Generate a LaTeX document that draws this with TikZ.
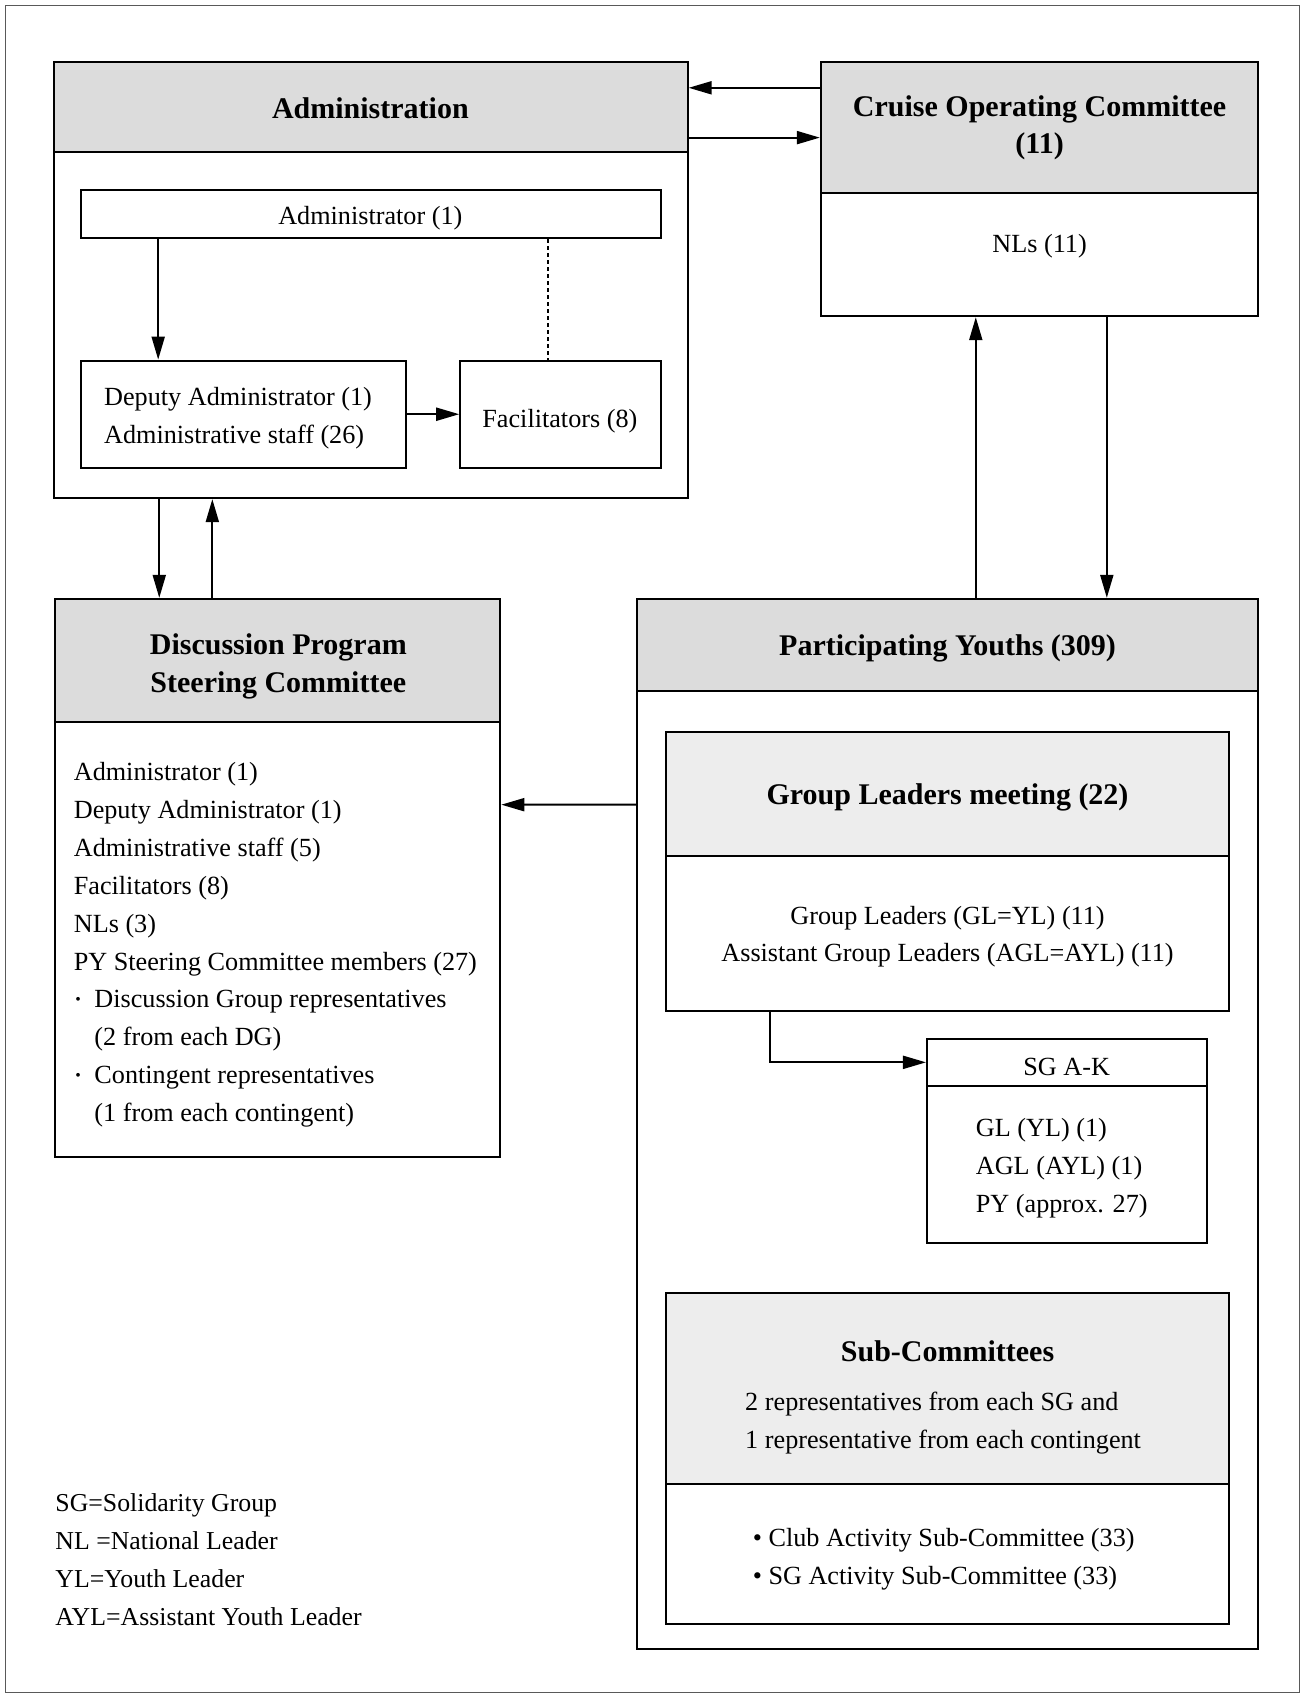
\documentclass[tikz,border=0pt]{standalone}
\usepackage{fontspec}
\setmainfont{Liberation Serif}
\usetikzlibrary{arrows.meta,calc,fit}
\definecolor{hdr}{HTML}{DCDCDC}
\definecolor{hdrl}{HTML}{EDEDED}
\newcommand\mydot{\makebox[20.6pt][l]{\hspace*{1.5pt}\raisebox{0.12em}{\scalebox{0.6}{•}}}}
\begin{document}
\begin{tikzpicture}[x=1.083pt,y=-1.083pt,
 box/.style={draw,line width=2pt,inner sep=0pt,rectangle},
 hbox/.style={box,fill=hdr},
 lbox/.style={box,fill=hdrl},
 ttl/.style={inner sep=0pt,font=\fontsize{30}{38}\selectfont\bfseries,align=center},
 txt/.style={inner sep=0pt,font=\fontsize{26.2}{37.9}\selectfont},
 lgd/.style={inner sep=0pt,font=\fontsize{25.8}{37.9}\selectfont,align=left,anchor=west},
 arr/.style={line width=2pt,-{Triangle[length=23pt,width=13pt]}},
]
\useasboundingbox (0,0) rectangle (1205,1568);
\node[draw=black!65,line width=1.2pt,inner sep=0pt,fit={(5,5) (1200,1563)}] (frame) {};

% Administration
\node[box,fit={(50,57) (635,460)}] (adm) {};
\node[hbox,fit={(50,57) (635,140)}] (admH) {};
\node[ttl] (admT) at (342,99.5) {Administration};
\node[box,fit={(75,175) (610,220)}] (adm1) {};
\node[txt] (adm1T) at (342,201.5) {Administrator (1)};
\node[box,fit={(75,333) (375,432)}] (dep) {};
\node[txt,align=left,anchor=west] (depT) at (96,386) {Deputy Administrator (1)\\Administrative staff (26)};
\node[box,fit={(425,333) (610,432)}] (fac) {};
\node[txt] (facT) at (517,388.5) {Facilitators (8)};
\draw[arr] ($(adm1.south west)+(72,0)$) -- ($(dep.north west)+(72,0)$);
\draw[line width=1.6pt,dash pattern=on 4pt off 3pt] ($(adm1.south west)+(432,0)$) -- ($(fac.north west)+(82,0)$);
\draw[arr] (dep.east) -- (fac.west);

% Cruise
\node[box,fit={(758,57) (1162,292)}] (cru) {};
\node[hbox,fit={(758,57) (1162,178)}] (cruH) {};
\node[ttl] (cruT) at (960,118) {Cruise Operating Committee\\(11)};
\node[txt] (cruN) at (960,227.5) {NLs (11)};
\draw[arr] ($(cruH.north west)+(0,25)$) -- ($(admH.north east)+(0,25)$);
\draw[arr] ($(admH.north east)+(0,71)$) -- ($(cruH.north west)+(0,71)$);

% Discussion
\node[box,fit={(51,553) (462,1068)}] (dis) {};
\node[hbox,fit={(51,553) (462,667)}] (disH) {};
\node[ttl] (disT) at (257,615.5) {Discussion Program\\Steering Committee};
\node[txt,align=left,anchor=west] (disB) at (68,872.5) {Administrator (1)\\Deputy Administrator (1)\\Administrative staff (5)\\Facilitators (8)\\NLs (3)\\PY Steering Committee members (27)\\\mydot Discussion Group representatives\\\hspace*{20.6pt}(2 from each DG)\\\mydot Contingent representatives\\\hspace*{20.6pt}(1 from each contingent)};
\draw[arr] ($(adm.south west)+(98,0)$) -- ($(disH.north west)+(97,0)$);
\draw[arr] ($(disH.north west)+(146,0)$) -- ($(adm.south west)+(147,0)$);

% Participating
\node[box,fit={(588,553) (1162,1523)}] (par) {};
\node[hbox,fit={(588,553) (1162,638)}] (parH) {};
\node[ttl] (parT) at (875,598.5) {Participating Youths (309)};
\draw[arr] ($(parH.north west)+(314,0)$) -- ($(cru.south west)+(144,0)$);
\draw[arr] ($(cru.south west)+(265,0)$) -- ($(parH.north west)+(435,0)$);
\draw[arr] ($(par.north west)+(0,191)$) -- ($(dis.north east)+(0,191)$);

% Group leaders
\node[box,fit={(615,676) (1135,934)}] (gl) {};
\node[lbox,fit={(615,676) (1135,790)}] (glH) {};
\node[ttl] (glT) at (875,736.5) {Group Leaders meeting (22)};
\node[txt,align=center] (glB) at (875,865) {Group Leaders (GL=YL) (11)\\Assistant Group Leaders (AGL=AYL) (11)};

% SG
\node[box,fit={(856,959) (1115,1148)}] (sg) {};
\node[box,fit={(856,959) (1115,1003)}] (sgH) {};
\node[txt] (sgT) at (985,985) {SG A-K};
\node[txt,align=left,anchor=west] (sgB) at (901,1078.5) {GL (YL) (1)\\AGL (AYL) (1)\\PY (approx. 27)};
\draw[arr] ($(gl.south west)+(97,0)$) |- (sgH.west);

% Sub-committees
\node[box,fit={(615,1194) (1135,1500)}] (sub) {};
\node[lbox,fit={(615,1194) (1135,1370)}] (subH) {};
\node[ttl] (subT) at (875,1247.5) {Sub-Committees};
\node[txt,align=left,anchor=west] (subR) at (688,1314.5) {2 representatives from each SG and\\1 representative from each contingent};
\node[txt,align=left,anchor=west] (subB) at (695,1440) {• Club Activity Sub-Committee (33)\\• SG Activity Sub-Committee (33)};

% Legend
\node[lgd] (leg) at (51,1440) {SG=Solidarity Group\\NL =National Leader\\YL=Youth Leader\\AYL=Assistant Youth Leader};
\end{tikzpicture}
\end{document}
